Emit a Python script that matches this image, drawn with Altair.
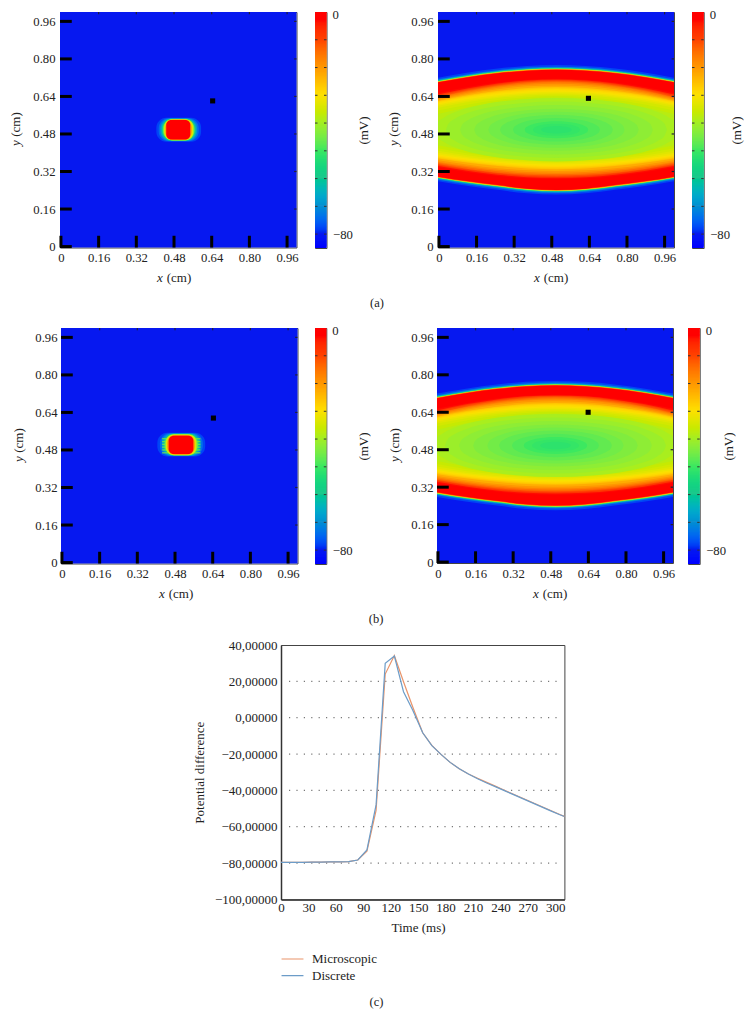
import altair as alt
import pandas as pd

SERIF = "Liberation Serif"
TEXT = "#222222"

# colour bar: mV stops and colours
STOPS = [-85, -80, -70, -60, -50, -40, -30, -20, -10, -3, 0]
COLOURS = ["#0000ff", "#0618f0", "#0f90d0", "#1cc88c", "#3ce860", "#a4ee22",
           "#fde000", "#ff9600", "#ff4000", "#ff0000", "#ff0000"]
BAR_LEVELS = [v / 2 for v in range(-170, 0)]
BAR_TICKS = [-80, -70, -60, -50, -40, -30, -20, -10]
AXIS_TICKS = [0, 0.16, 0.32, 0.48, 0.64, 0.80, 0.96]

# wave panels: contour heights at these x positions (left half, mirrored)
WAVE_X = [-0.004, 0.125, 0.25, 0.375, 0.5, 0.625, 0.75, 0.875, 1.0]
FRONT_TOP = [0.700, 0.722, 0.739, 0.750, 0.754]
FRONT_BOT = [0.298, 0.278, 0.262, 0.247, 0.2415]
OUTER_LEVELS = [-78, -72, -65, -55, -42, -28, -12]
OUTER_GAPS = [0.020, 0.013, 0.009, 0.007, 0.005, 0.0035, 0.002]
INNER_LEVELS = [-3.5, -8, -11, -14, -17, -20, -23, -26, -27.5, -29, -30.5, -32, -33.5, -35, -36.5, -38]
INNER_TOP = [
    [0.655, 0.680, 0.699, 0.711, 0.715],
    [0.648, 0.675, 0.695, 0.708, 0.712],
    [0.643, 0.671, 0.691, 0.704, 0.709],
    [0.638, 0.666, 0.687, 0.700, 0.705],
    [0.634, 0.662, 0.682, 0.695, 0.700],
    [0.630, 0.657, 0.677, 0.690, 0.694],
    [0.626, 0.652, 0.671, 0.683, 0.687],
    [0.621, 0.646, 0.664, 0.676, 0.680],
    [0.619, 0.643, 0.661, 0.672, 0.676],
    [0.616, 0.640, 0.657, 0.668, 0.672],
    [0.611, 0.635, 0.651, 0.662, 0.666],
    [0.606, 0.629, 0.645, 0.656, 0.660],
    [0.600, 0.623, 0.639, 0.650, 0.654],
    [0.592, 0.616, 0.633, 0.644, 0.648],
    [0.580, 0.606, 0.625, 0.637, 0.642],
    [0.565, 0.594, 0.616, 0.630, 0.635],
]
INNER_BOT = [
    [0.338, 0.317, 0.301, 0.291, 0.288],
    [0.343, 0.322, 0.306, 0.296, 0.293],
    [0.348, 0.327, 0.311, 0.301, 0.298],
    [0.352, 0.331, 0.315, 0.306, 0.303],
    [0.357, 0.337, 0.321, 0.312, 0.309],
    [0.362, 0.342, 0.327, 0.318, 0.315],
    [0.368, 0.349, 0.334, 0.325, 0.322],
    [0.375, 0.357, 0.343, 0.333, 0.330],
    [0.379, 0.361, 0.347, 0.338, 0.334],
    [0.383, 0.365, 0.351, 0.342, 0.339],
    [0.388, 0.370, 0.357, 0.348, 0.344],
    [0.393, 0.375, 0.362, 0.353, 0.350],
    [0.400, 0.381, 0.368, 0.360, 0.356],
    [0.408, 0.388, 0.375, 0.366, 0.362],
    [0.419, 0.397, 0.382, 0.373, 0.369],
    [0.432, 0.408, 0.391, 0.380, 0.376],
]
# closed contours round the centre of the wave: level, half width, half height
CORE_CENTRE = 0.498
CORE_LEVELS = [-39.5, -41, -42.5, -44, -45.5, -47, -48.5, -50, -51, -52]
CORE_A = [0.520, 0.470, 0.410, 0.350, 0.290, 0.240, 0.185, 0.135, 0.100, 0.065]
CORE_B = [0.135, 0.120, 0.105, 0.090, 0.077, 0.064, 0.050, 0.036, 0.026, 0.016]
OVAL_DX = [1.0, 0.98, 0.92, 0.8, 0.6, 0.3, 0.0]
OVAL_DY = [0.0, 0.2, 0.39, 0.6, 0.8, 0.95, 1.0]

# stimulus blobs, outermost first
BLOB_LEVELS = [-78, -74, -68, -58, -46, -34, -20, -2]
BLOB_A_X0 = [0.405, 0.415, 0.422, 0.428, 0.433, 0.438, 0.443, 0.447]
BLOB_A_X1 = [0.595, 0.585, 0.578, 0.572, 0.567, 0.562, 0.555, 0.549]
BLOB_A_Y0 = [0.447, 0.449, 0.450, 0.451, 0.452, 0.453, 0.454, 0.456]
BLOB_A_Y1 = [0.549, 0.547, 0.546, 0.545, 0.544, 0.543, 0.542, 0.540]
BLOB_B_X0 = [0.405, 0.416, 0.424, 0.431, 0.436, 0.441, 0.447, 0.453]
BLOB_B_X1 = [0.608, 0.598, 0.590, 0.583, 0.577, 0.571, 0.564, 0.558]
BLOB_B_Y0 = [0.452, 0.454, 0.455, 0.456, 0.457, 0.458, 0.460, 0.463]
BLOB_B_Y1 = [0.553, 0.551, 0.550, 0.549, 0.548, 0.546, 0.544, 0.541]
# the striations on the sides of the blob in (b)
STRIPE_Y = [0.468, 0.480, 0.492, 0.504, 0.516, 0.528]
STRIPE_LEVEL = -46
STRIPE_LEFT = (0.425, 0.450)
STRIPE_RIGHT = (0.561, 0.588)

# the black probe squares
MARK_A1 = (0.644, 0.621)
MARK_A2 = (0.636, 0.632)
MARK_B1 = (0.643, 0.616)
MARK_B2 = (0.639, 0.640)

# panel (c)
TIME = [0, 4, 14, 24, 34, 44, 54, 64, 74, 84, 94, 104, 114, 124, 134, 144, 155,
        165, 175, 185, 195, 205, 215, 225, 235, 245, 255, 265, 275, 285, 295, 305, 310]
MICROSCOPIC = [-79.6, -79.6, -79.6, -79.6, -79.5, -79.5, -79.4, -79.4, -79.2, -78.3,
               -73.5, -51.0, 24.0, 34.2, 19.8, 6.0, -8.3, -15.2, -20.2, -24.6, -28.1,
               -31.0, -33.3, -35.6, -37.8, -40.1, -42.3, -44.5, -46.7, -48.9, -51.1,
               -53.3, -54.3]
DISCRETE = [-79.6, -79.6, -79.6, -79.6, -79.5, -79.5, -79.4, -79.4, -79.2, -78.3,
            -72.8, -48.0, 29.9, 33.9, 14.3, 4.2, -8.3, -15.4, -20.2, -24.6, -28.1,
            -31.0, -33.6, -35.9, -38.1, -40.3, -42.5, -44.7, -46.9, -49.1, -51.3,
            -53.4, -54.4]
Y_TICKS = [-100, -80, -60, -40, -20, 0, 20, 40]
GRID_Y = [-80, -60, -40, -20, 0, 20]
X_TICKS = [0, 30, 60, 90, 120, 150, 180, 210, 240, 270, 300]
SERIES = ["Microscopic", "Discrete"]
SERIES_COLOURS = ["#e9946a", "#6c9cc8"]

XDOM = [-0.004, 1.0]
YDOM = [-0.004, 1.0]
xs = alt.Scale(domain=XDOM, nice=False, zero=False)
ys = alt.Scale(domain=YDOM, nice=False, zero=False)
cs = alt.Scale(domain=STOPS, range=COLOURS)

LABEL_EXPR = "datum.value == 0 ? '0' : format(datum.value, '.2f')"
XAX = alt.Axis(values=AXIS_TICKS, labelExpr=LABEL_EXPR, title=None, labelPadding=4)


def yax(pad):
    return alt.Axis(values=AXIS_TICKS, labelExpr=LABEL_EXPR, title=None, labelPadding=pad)


def frame(rows):
    return pd.DataFrame(rows)


def mirror(half):
    return list(half) + list(half[-2::-1])


def wave_rows():
    rows = []
    order = 0
    top_f, bot_f = mirror(FRONT_TOP), mirror(FRONT_BOT)
    for level, gap in zip(OUTER_LEVELS, OUTER_GAPS):
        for x, t, b in zip(WAVE_X, top_f, bot_f):
            rows.append(dict(o=order, v=level, x=x, top=t + gap, bot=b - gap))
        order += 1
    for x, t, b in zip(WAVE_X, top_f, bot_f):
        rows.append(dict(o=order, v=-2, x=x, top=t, bot=b))
    order += 1
    for level, tt, bb in zip(INNER_LEVELS, INNER_TOP, INNER_BOT):
        for x, t, b in zip(WAVE_X, mirror(tt), mirror(bb)):
            rows.append(dict(o=order, v=level, x=x, top=t, bot=b))
        order += 1
    for level, a, b in zip(CORE_LEVELS, CORE_A, CORE_B):
        pts = [(-dx * a, dy * b) for dx, dy in zip(OVAL_DX, OVAL_DY)]
        pts += [(dx * a, dy * b) for dx, dy in list(zip(OVAL_DX, OVAL_DY))[-2::-1]]
        for px, dy in pts:
            rows.append(dict(o=order, v=level, x=0.5 + px, top=CORE_CENTRE + dy, bot=CORE_CENTRE - dy))
        order += 1
    return frame(rows)


def word(t, px, py, angle=0, style="normal", size=13):
    return alt.Chart(frame([dict(t=t)])).mark_text(
        font=SERIF, fontSize=size, color=TEXT, angle=angle, fontStyle=style
    ).encode(x=alt.value(px), y=alt.value(py), text="t:N")


def panel(shapes, mark, w, h, pad, title_x, x_mid):
    YAX = yax(pad)
    X = lambda f: alt.X(f, scale=xs, axis=XAX)
    Y = lambda f: alt.Y(f, scale=ys, axis=YAX)
    bg = alt.Chart(frame([dict(x0=XDOM[0], x1=XDOM[1], y0=YDOM[0], y1=YDOM[1], v=-80)])).mark_rect().encode(
        x=X("x0:Q"), x2="x1:Q", y=Y("y0:Q"), y2="y1:Q",
        color=alt.Color("v:Q", scale=cs, legend=None),
    )
    left = alt.Chart(frame([dict(t=t, a=XDOM[0], b=0.046) for t in AXIS_TICKS])).mark_rule(
        color="black", strokeWidth=3
    ).encode(x=X("a:Q"), x2="b:Q", y=Y("t:Q"))
    bottom = alt.Chart(frame([dict(t=t, a=YDOM[0], b=0.046) for t in AXIS_TICKS])).mark_rule(
        color="black", strokeWidth=3
    ).encode(y=Y("a:Q"), y2="b:Q", x=X("t:Q"))
    right = alt.Chart(frame([dict(t=t, a=0.99, b=1.0) for t in AXIS_TICKS[1:]])).mark_rule(
        color="#223", strokeWidth=1.2
    ).encode(x=X("a:Q"), x2="b:Q", y=Y("t:Q"))
    top = alt.Chart(frame([dict(t=t, a=0.99, b=1.0) for t in AXIS_TICKS[1:]])).mark_rule(
        color="#223", strokeWidth=1.2
    ).encode(y=Y("a:Q"), y2="b:Q", x=X("t:Q"))
    probe = alt.Chart(frame([dict(x=mark[0], y=mark[1])])).mark_square(size=26, color="black", opacity=1).encode(
        x=X("x:Q"), y=Y("y:Q")
    )
    texts = [
        word("x", x_mid - 19, 265.5, style="italic"),
        word("(cm)", x_mid, 265.5),
        word("y", title_x, 131, angle=270, style="italic"),
        word("(cm)", title_x, 112.5, angle=270),
    ]
    return alt.layer(bg, *[s(X, Y) for s in shapes], left, bottom, right, top, probe, *texts).properties(
        width=w, height=h
    )


def wave(mark, w, h, pad, title_x, x_mid):
    def area(X, Y):
        return alt.Chart(wave_rows()).mark_area(interpolate="monotone", clip=True, opacity=1).encode(
            x=X("x:Q"), y=Y("top:Q"), y2="bot:Q", detail="o:O",
            color=alt.Color("v:Q", scale=cs, legend=None),
        )
    return panel([area], mark, w, h, pad, title_x, x_mid)


def blob(x0, x1, y0, y1, mark, w, h, pad, title_x, x_mid, stripes=False):
    d = frame(dict(o=list(range(len(x0))), v=BLOB_LEVELS, x0=x0, x1=x1, y0=y0, y1=y1))

    def rects(frm, to, radius):
        def make(X, Y):
            return alt.Chart(d.iloc[frm:to]).mark_rect(cornerRadius=radius, opacity=1).encode(
                x=X("x0:Q"), x2="x1:Q", y=Y("y0:Q"), y2="y1:Q",
                color=alt.Color("v:Q", scale=cs, legend=None), order="o:Q",
            )
        return make

    def striations(side):
        def make(X, Y):
            s = frame(dict(y=STRIPE_Y, v=STRIPE_LEVEL, a=side[0], b=side[1]))
            return alt.Chart(s).mark_rule(strokeWidth=1.3, opacity=0.8).encode(
                x=X("a:Q"), x2="b:Q", y=Y("y:Q"),
                color=alt.Color("v:Q", scale=cs, legend=None),
            )
        return make

    shapes = [rects(0, 5, 10)]
    if stripes:
        shapes += [striations(STRIPE_LEFT), striations(STRIPE_RIGHT)]
    shapes += [rects(5, 7, 8), rects(7, 8, 5)]
    return panel(shapes, mark, w, h, pad, title_x, x_mid)


def colourbar(w, h, title_x):
    ybar = alt.Scale(domain=[-85, 0], nice=False, zero=False)
    ax = alt.Axis(
        orient="right", values=[-80], title="(mV)", format="d", labelPadding=6,
        titleAngle=270, titleFont=SERIF, titleFontSize=13, titleFontWeight="normal",
        titleX=title_x, titleY=118, titleColor=TEXT,
    )
    d = frame(dict(v=BAR_LEVELS, v2=[min(v + 1, 0) for v in BAR_LEVELS]))
    rect = alt.Chart(d).mark_rect().encode(
        y=alt.Y("v:Q", scale=ybar, axis=ax), y2="v2:Q",
        x=alt.value(0), x2=alt.value(w),
        color=alt.Color("v:Q", scale=cs, legend=None),
    )
    ticks_l = alt.Chart(frame(dict(v=BAR_TICKS))).mark_rule(color="#333", strokeWidth=1).encode(
        y=alt.Y("v:Q", scale=ybar, axis=ax), x=alt.value(0), x2=alt.value(2.5)
    )
    ticks_r = alt.Chart(frame(dict(v=BAR_TICKS))).mark_rule(color="#333", strokeWidth=1).encode(
        y=alt.Y("v:Q", scale=ybar, axis=ax), x=alt.value(w - 2.5), x2=alt.value(w)
    )
    zero = alt.Chart(frame(dict(v=[0], t=["0"]))).mark_text(
        font=SERIF, fontSize=12.7, color=TEXT, align="left", dy=2.7
    ).encode(y=alt.Y("v:Q", scale=ybar, axis=ax), x=alt.value(w + 6), text="t:N")
    return alt.layer(rect, ticks_l, ticks_r, zero).properties(width=w, height=h)


def spacer(w, h=1):
    return alt.Chart(frame(dict(s=[0]))).mark_point(opacity=0).properties(
        width=w, height=h, view=alt.ViewConfig(strokeOpacity=0)
    )


a1 = blob(BLOB_A_X0, BLOB_A_X1, BLOB_A_Y0, BLOB_A_Y1, MARK_A1, 236.5, 235.5, 5, -44.5, 119) + word("(a)", 317, 291, size=12.5)
a2 = wave(MARK_A2, 236, 235.5, 5, -44.5, 118)
b1 = blob(BLOB_B_X0, BLOB_B_X1, BLOB_B_Y0, BLOB_B_Y1, MARK_B1, 236.5, 235.5, 4, -42, 120, stripes=True) + word("(b)", 315, 291, size=12.5)
b2 = wave(MARK_B2, 236, 235, 4, -42, 118)

# panel (c)
x_c = alt.Scale(domain=[0, 310], nice=False, zero=False)
y_c = alt.Scale(domain=[-100, 40], nice=False, zero=False)
c_xax = alt.Axis(
    values=X_TICKS, title="Time (ms)", labelPadding=2.5, titlePadding=7, titleX=137,
    domain=True, domainColor="#333", domainWidth=1.5, labelFontSize=13, titleFontSize=13,
)
c_yax = alt.Axis(
    values=Y_TICKS, title="Potential difference", labelPadding=4,
    labelExpr="replace(format(datum.value, '.5f'), '.', ',')", titlePadding=8,
    domain=True, domainColor="#333", domainWidth=1.5, labelFontSize=13, titleFontSize=13,
)
long = pd.concat([
    frame(dict(t=TIME, v=MICROSCOPIC, s=SERIES[0], o=0)),
    frame(dict(t=TIME, v=DISCRETE, s=SERIES[1], o=1)),
])
grid = alt.Chart(frame(dict(y=GRID_Y))).mark_rule(
    color="#777", strokeWidth=1.2, strokeDash=[1.2, 6.2]
).encode(y=alt.Y("y:Q", scale=y_c, axis=c_yax), x=alt.value(8), x2=alt.value(279))
lines = alt.Chart(long).mark_line(strokeWidth=1.2, interpolate="linear").encode(
    x=alt.X("t:Q", scale=x_c, axis=c_xax),
    y=alt.Y("v:Q", scale=y_c, axis=c_yax),
    color=alt.Color("s:N", sort=SERIES, scale=alt.Scale(domain=SERIES, range=SERIES_COLOURS), legend=alt.Legend(
        orient="none", legendX=272.5, legendY=307, title=None, symbolType="stroke", symbolSize=480,
        symbolStrokeWidth=1.2, labelFont=SERIF, labelFontSize=13, labelColor=TEXT, rowPadding=2.6,
        labelOffset=7.5, padding=0, clipHeight=14,
    )),
    order="o:Q",
)
c = alt.layer(grid, lines, word("(c)", 95.4, 356.7, size=12.5)).properties(width=283.4, height=254.4)

row1 = alt.hconcat(spacer(51.3, 311.35), a1, spacer(17.7), colourbar(11.5, 236, 43.5), spacer(111), a2, spacer(17.3),
                   colourbar(11.7, 236, 40), spacing=0, bounds="flush")
row2 = alt.hconcat(spacer(53, 309.8), b1, spacer(16.2), colourbar(11.3, 236, 44.5), spacer(110), b2, spacer(15),
                   colourbar(11.7, 236, 36), spacing=0, bounds="flush")
row3 = alt.hconcat(spacer(272.3, 360), c, spacing=0, bounds="flush")

chart = alt.vconcat(row1, row2, row3, spacing=0).properties(
    padding=alt.Padding(left=0, top=0, right=0, bottom=0)
).configure(
    font=SERIF,
    axis=alt.AxisConfig(
        labelFont=SERIF, labelFontSize=12.7, labelColor=TEXT, titleFont=SERIF, titleFontSize=12.5,
        titleColor=TEXT, titleFontWeight="normal", domain=False, ticks=False, grid=False,
        labelFlush=False, labelOverlap=False, labelBound=False, labelPadding=5,
    ),
    view=alt.ViewConfig(stroke="#444", strokeWidth=1),
)
chart.save("out.html", embed_options={"renderer": "svg", "actions": False})
